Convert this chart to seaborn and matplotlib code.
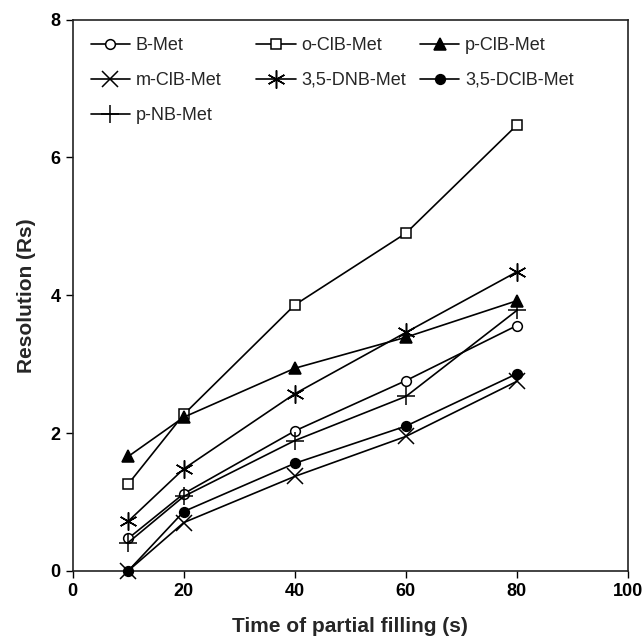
import pandas as pd
import matplotlib
matplotlib.use("Agg")
import matplotlib.pyplot as plt
import seaborn as sns

# time of partial filling (s)
time_s = [10, 20, 40, 60, 80]

# resolution
b_met = [0.47, 1.12, 2.03, 2.76, 3.56]
o_clb_met = [1.26, 2.27, 3.86, 4.90, 6.47]
p_clb_met = [1.66, 2.23, 2.94, 3.39, 3.92]
m_clb_met = [0.0, 0.70, 1.37, 1.95, 2.75]
dnb_met = [0.72, 1.48, 2.57, 3.46, 4.34]
dclb_met = [0.0, 0.86, 1.56, 2.10, 2.86]
p_nb_met = [0.41, 1.08, 1.89, 2.53, 3.78]

series = [
    ("B-Met", b_met, "o", "white", 7),
    ("o-ClB-Met", o_clb_met, "s", "white", 7),
    ("p-ClB-Met", p_clb_met, "^", "black", 8),
    ("m-ClB-Met", m_clb_met, "x", "black", 11),
    ("3,5-DNB-Met", dnb_met, (6, 2, 0), "black", 13),
    ("3,5-DClB-Met", dclb_met, "o", "black", 7),
    ("p-NB-Met", p_nb_met, "+", "black", 13),
]

sns.set_style("ticks")
plt.rcParams["font.family"] = ["Liberation Sans", "DejaVu Sans"]

fig, ax = plt.subplots(figsize=(6.44, 6.37), dpi=100)
fig.subplots_adjust(left=0.113, right=0.975, top=0.969, bottom=0.104)

for name, vals, mk, fc, ms in series:
    df = pd.DataFrame({"t": time_s, "rs": vals})
    sns.lineplot(data=df, x="t", y="rs", ax=ax, color="black", lw=1.2,
                 marker=mk, markersize=ms, markerfacecolor=fc,
                 markeredgecolor="black", markeredgewidth=1.1,
                 label=name, clip_on=False, zorder=3)

ax.set_xlim(0, 100)
ax.set_ylim(0, 8)
ax.set_xticks([0, 20, 40, 60, 80, 100])
ax.set_yticks([0, 2, 4, 6, 8])
ax.tick_params(direction="out", length=5, width=1, labelsize=13, colors="black", pad=4)
for lab in ax.get_xticklabels() + ax.get_yticklabels():
    lab.set_fontweight("bold")
for sp in ax.spines.values():
    sp.set_visible(True)
    sp.set_linewidth(1.2)
    sp.set_color("#222222")

ax.set_xlabel("Time of partial filling (s)", fontsize=15, fontweight="bold", labelpad=12)
ax.set_ylabel("Resolution (Rs)", fontsize=15, fontweight="bold", labelpad=10)

# legend laid out row by row in three fixed columns
handles, labels = ax.get_legend_handles_labels()
ax.get_legend().remove()
col_x = [0.032, 0.330, 0.625]
for c in range(3):
    idx = list(range(c, len(handles), 3))
    leg = ax.legend([handles[i] for i in idx], [labels[i] for i in idx],
                    loc="upper left", bbox_to_anchor=(col_x[c], 0.969),
                    frameon=False, fontsize=13, handlelength=2.2,
                    handletextpad=0.3, labelspacing=1.0,
                    borderpad=0, borderaxespad=0)
    if c < 2:
        ax.add_artist(leg)

fig.savefig("out.png", dpi=100)
